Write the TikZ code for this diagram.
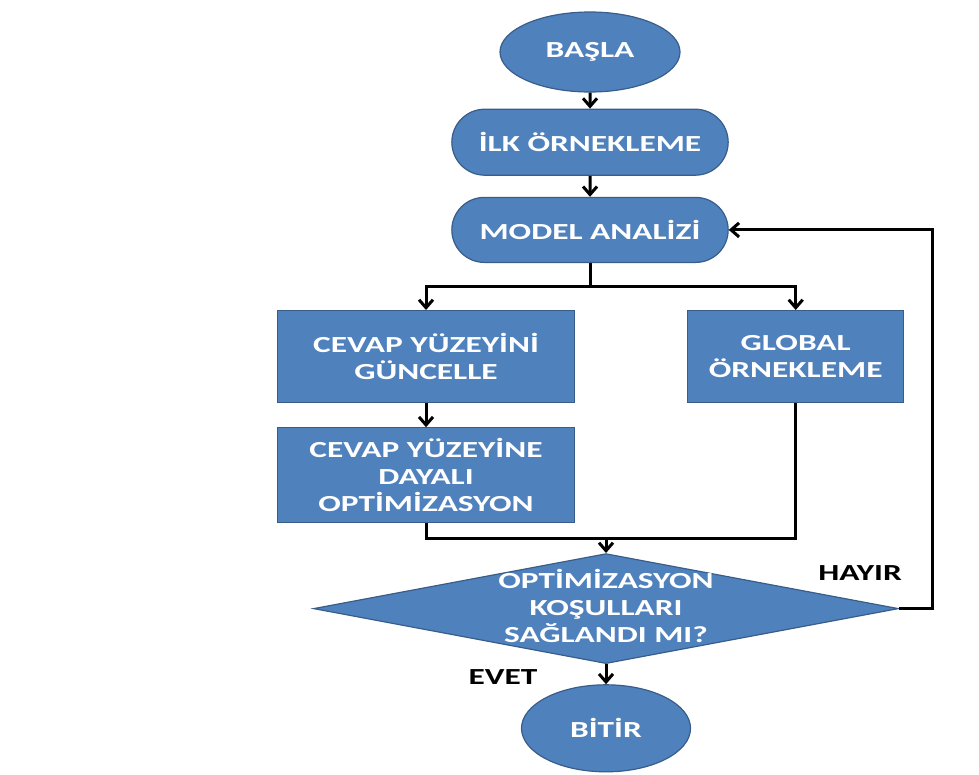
\documentclass[tikz,border=0pt]{standalone}
\usepackage{fontspec}
\newfontfamily\flowfont{Carlito}[FakeStretch=1.45]
\usetikzlibrary{positioning,shapes.geometric,shapes.misc,arrows.meta}
\definecolor{boxblue}{HTML}{4F81BD}
\definecolor{boxedge}{HTML}{385D8A}

\begin{document}
\begin{tikzpicture}[x=1pt,y=-1pt,
      every node/.style={font=\flowfont\bfseries\fontsize{23}{27}\selectfont},
      termbox/.style={ellipse,draw=boxedge,fill=boxblue,line width=1.2pt,text=white,inner sep=0pt},
      roundbox/.style={rounded rectangle,draw=boxedge,fill=boxblue,line width=1.2pt,text=white,minimum width=283pt,minimum height=66pt},
      stepbox/.style={rectangle,draw=boxedge,fill=boxblue,line width=1.2pt,text=white,align=center,minimum width=297pt,minimum height=92pt},
      decision/.style={diamond,draw=boxedge,fill=boxblue,line width=1.2pt,text=white,inner sep=0pt,minimum width=585pt,minimum height=110pt},
      answer/.style={text=black},
      arrow/.style={-{Straight Barb[length=8pt,width=14pt]},line width=3pt},
      line/.style={line width=3pt}]
      \useasboundingbox (0,0) rectangle (979,774);
      \node[termbox,minimum width=180pt,minimum height=80pt] (basla) at (590,52) {BAŞLA};
      \node[roundbox,below=16pt of basla] (ilk) {İLK ÖRNEKLEME};
      \node[roundbox,below=21pt of ilk,minimum height=65pt] (analiz) {MODEL ANALİZİ};
      \node[stepbox,below=47pt of analiz,xshift=-164pt] (guncelle) {CEVAP YÜZEYİNİ\\GÜNCELLE};
      \node[stepbox,right=112pt of guncelle,minimum width=216pt] (global) {GLOBAL\\ÖRNEKLEME};
      \node[stepbox,below=24pt of guncelle,minimum height=95pt] (dayali) {CEVAP YÜZEYİNE\\DAYALI\\OPTİMİZASYON};
      \coordinate (birles) at (606,538);
      \node[decision,below=15pt of birles] (kosul) {\makebox[0pt]{\smash{\raisebox{-8pt}{\begin{tabular}{@{}c@{}}OPTİMİZASYON\\KOŞULLARI\\SAĞLANDI MI?\end{tabular}}}}};
      \node[termbox,minimum width=169pt,minimum height=87pt,below=20pt of kosul] (bitir) {BİTİR};
      \node[answer] (hayir) at (860,573) {HAYIR};
      \node[answer] (evet) at (503,677) {EVET};
      \draw[arrow] (basla) -- (ilk); \draw[arrow] (ilk) -- (analiz);
      \draw[arrow] (analiz.south) -- ++(0,23) -| (guncelle.north);
      \draw[arrow] (analiz.south) -- ++(0,23) -| (global.north);
      \draw[arrow] (guncelle) -- (dayali);
      \draw[line] (dayali.south) |- (birles) -| (global.south);
      \draw[arrow] (birles) -- (kosul.north);
      \draw[arrow] (kosul) -- (bitir);
      \draw[arrow] (kosul.east) -- ++(33,0) |- (analiz.east);
    \end{tikzpicture}
\end{document}
